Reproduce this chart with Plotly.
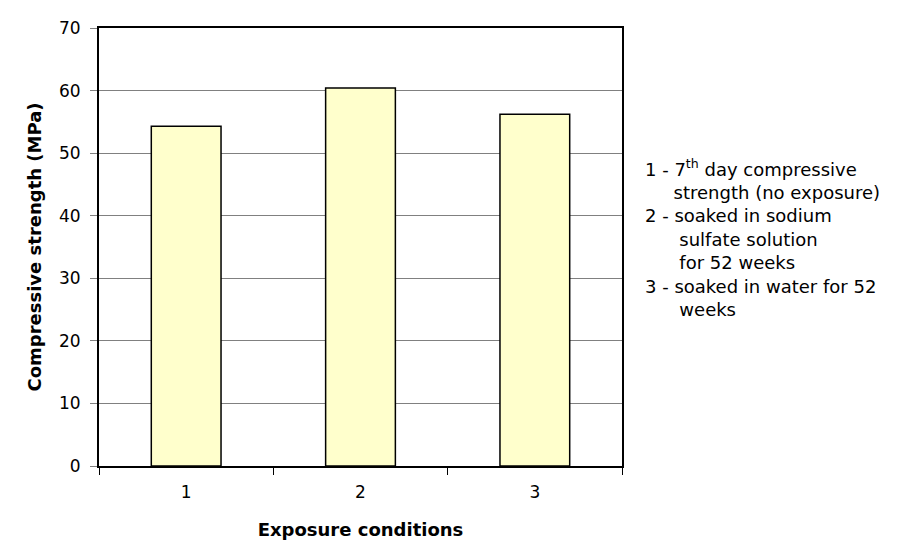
import plotly.graph_objects as go

categories = ["1", "2", "3"]
strength = [54.3, 60.4, 56.2]
y_ticks = [0, 10, 20, 30, 40, 50, 60, 70]

font = "DejaVu Sans, Liberation Sans, Arial, sans-serif"

fig = go.Figure()
fig.add_trace(go.Bar(
    x=categories, y=strength,
    marker=dict(color="#FFFFCC", line=dict(color="black", width=1.5)),
    width=0.4,
))

fig.update_layout(
    width=899, height=548,
    margin=dict(l=91, r=285, t=20, b=90),
    paper_bgcolor="white", plot_bgcolor="white",
    showlegend=False,
    font=dict(family=font, size=17, color="black"),
)
fig.update_xaxes(
    type="category", automargin=False,
    showline=True, linecolor="black", linewidth=2, mirror=True,
    ticks="outside", tickson="boundaries", ticklen=7, tickcolor="black",
    showgrid=False,
    tickfont=dict(size=17), ticklabelstandoff=10,
    title=dict(text="<b>Exposure conditions</b>", font=dict(size=18), standoff=22),
)
fig.update_yaxes(
    range=[0, 70], tickvals=y_ticks, automargin=False,
    showline=True, linecolor="black", linewidth=2, mirror=True,
    ticks="outside", ticklen=7, tickcolor="#808080",
    showgrid=True, gridcolor="#808080", gridwidth=1,
    tickfont=dict(size=17), ticklabelstandoff=6,
    title=dict(text="<b>Compressive strength (MPa)</b>", font=dict(size=18), standoff=13),
)

nb5 = "\u00a0" * 5
nb6 = "\u00a0" * 6
legend_text = (
    "1 - 7<sup>th</sup> day compressive<br>"
    + nb5 + "strength (no exposure)<br>"
    "2 - soaked in sodium<br>"
    + nb6 + "sulfate solution<br>"
    + nb6 + "for 52 weeks<br>"
    "3 - soaked in water for 52<br>"
    + nb6 + "weeks"
)
fig.add_annotation(
    text=legend_text, xref="paper", yref="paper",
    x=1.04, y=0.712, xanchor="left", yanchor="top",
    align="left", showarrow=False,
    font=dict(size=18, family=font),
)

fig.write_html("out.html")
